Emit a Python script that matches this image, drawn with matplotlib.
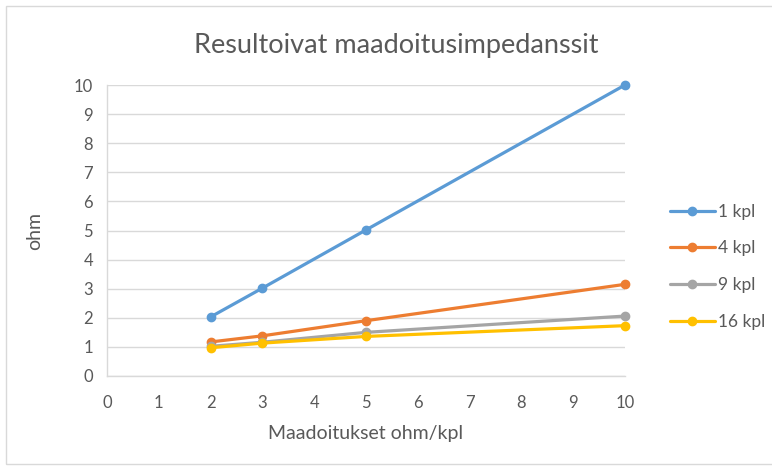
import matplotlib
matplotlib.use("Agg")
import matplotlib.pyplot as plt
from matplotlib.patches import Rectangle

plt.rcParams['font.family'] = ['Lato', 'DejaVu Sans']

## chart data
x_vals = [2, 3, 5, 10]
y_1kpl = [2.03, 3.02, 5.02, 10.0]
y_4kpl = [1.17, 1.38, 1.90, 3.15]
y_9kpl = [1.02, 1.16, 1.50, 2.06]
y_16kpl = [0.97, 1.13, 1.36, 1.73]
series_names = ["1 kpl", "4 kpl", "9 kpl", "16 kpl"]
colors = ["#5b9bd5", "#ed7d31", "#a5a5a5", "#ffc000"]

text_col = "#595959"
grid_col = "#d9d9d9"

fig = plt.figure(figsize=(7.72, 4.68), dpi=100)
ax = fig.add_axes([107/772, 1-376/468, (625-107)/772, (376-85)/468])

# outer chart border
fig.patches.append(Rectangle((6/772, 4/468), 1.0, 1-10/468, transform=fig.transFigure,
                             fill=False, edgecolor=grid_col, linewidth=1.0))

for ys, name, c in zip([y_1kpl, y_4kpl, y_9kpl, y_16kpl], series_names, colors):
    ax.plot(x_vals, ys, color=c, linewidth=2.3, marker="o", markersize=6,
            label=name, solid_capstyle="round", zorder=3, clip_on=False)

ax.set_xlim(0, 10)
ax.set_ylim(0, 10)
ax.set_xticks(range(0, 11))
ax.set_yticks(range(0, 11))
ax.grid(axis="y", color=grid_col, linewidth=1.0)
ax.set_axisbelow(True)
ax.tick_params(length=0, labelsize=12, labelcolor=text_col)
ax.tick_params(axis="x", pad=14)
ax.tick_params(axis="y", pad=10)
for s in ["top", "right"]:
    ax.spines[s].set_visible(False)
for s in ["left", "bottom"]:
    ax.spines[s].set_color(grid_col)
    ax.spines[s].set_linewidth(1.0)

ax.set_xlabel("Maadoitukset ohm/kpl", fontsize=14, color=text_col, labelpad=10)
ax.set_ylabel("ohm", fontsize=14, color=text_col, labelpad=22)
fig.text(396/772, 1-45/468, "Resultoivat maadoitusimpedanssit", ha="center", va="center",
         fontsize=19.5, color=text_col)

leg = ax.legend(loc="center left", bbox_to_anchor=(1.056, 0.375), frameon=False,
                fontsize=12.5, labelcolor=text_col, handlelength=2.6, handletextpad=0.2,
                labelspacing=1.2)

fig.savefig("out.png", dpi=100)
